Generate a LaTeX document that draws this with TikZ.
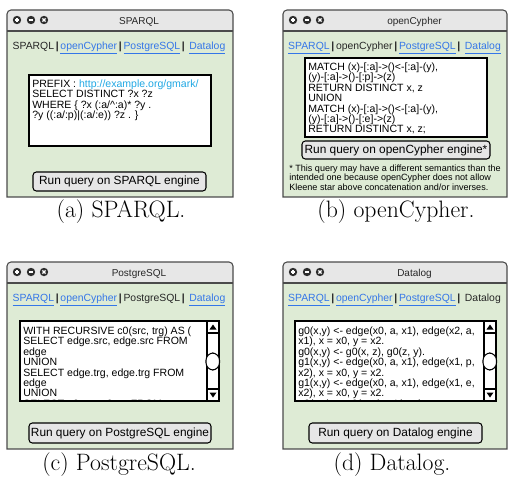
\documentclass[tikz,border=0pt]{standalone}
\usepackage{fontspec}
\newfontfamily\uifont{Liberation Sans}
\definecolor{wbg}{RGB}{222,235,213}
\definecolor{tbar}{RGB}{231,231,231}
\definecolor{wline}{RGB}{75,75,75}
\definecolor{linkc}{RGB}{52,118,232}
\definecolor{urlc}{RGB}{32,168,228}
\definecolor{btnbg}{RGB}{230,230,230}
\definecolor{iconc}{RGB}{45,45,45}
\newcommand\lnk[1]{\textcolor{linkc}{\underline{#1\vphantom{gp}}}}
\newcommand\sepbar{\hspace{1.3pt}\textbf{|}\hspace{1.3pt}}
\newcommand\uiwindow[2]{%
  \fill[wbg] (0,21) rectangle (#1,#2);
  \fill[tbar] (0,21) [rounded corners=3]-- (0,0) -- (#1,0) [sharp corners]-- (#1,21) -- cycle;
  \draw[wline, line width=0.8pt] (0,21) -- (#1,21);
  \draw[wline, line width=0.8pt] (0,#2) [rounded corners=3]-- (0,0) -- (#1,0) [sharp corners]-- (#1,#2) -- cycle;
  \fill[iconc] (10,10) circle (4.2);
  \draw[white, line width=0.9pt] (7.8,10) -- (12.2,10) (10,7.8) -- (10,12.2);
  \fill[iconc] (24,10) circle (4.2);
  \draw[white, line width=0.9pt] (21.8,10) -- (26.2,10);
  \fill[iconc] (37,10) circle (4.2);
  \draw[white, line width=0.9pt] (35.4,8.4) -- (38.6,11.6) (35.4,11.6) -- (38.6,8.4);
}
\newcommand\scrollbar[3]{%
  \draw[black, line width=0.8pt] (#1,#3) -- (#1,#3+80);
  \draw[black, line width=0.8pt] (#1,#3+12) -- (#2,#3+12) (#1,#3+68) -- (#2,#3+68);
  \fill[black] (#1+2.5,#3+8.5) -- (#2-2.5,#3+8.5) -- ({(#1+#2)/2},#3+3.5) -- cycle;
  \fill[black] (#1+2.5,#3+71.5) -- (#2-2.5,#3+71.5) -- ({(#1+#2)/2},#3+76.5) -- cycle;
  \draw[black, fill=white, line width=0.8pt, rounded corners=5.5] (#1-1,#3+32) rectangle (#2+0.5,#3+49);
}
\begin{document}
\begin{tikzpicture}[x=0.75pt,y=-0.75pt,
  ttl/.style={font=\uifont\fontsize{7.5}{9}\selectfont, text=black!85, inner sep=0, anchor=base},
  tabs/.style={font=\uifont\fontsize{7.8}{9}\selectfont, text=black!85, inner sep=0, anchor=base},
  code/.style={font=\uifont\fontsize{7.9}{7.8}\selectfont, align=left, inner sep=0, anchor=north west},
  codebox/.style={draw=black, fill=white, line width=1pt},
  btn/.style={draw=black, fill=btnbg, rounded corners=2.5, line width=0.8pt, inner sep=0,
    font=\uifont\fontsize{8.9}{10}\selectfont},
  note/.style={font=\uifont\fontsize{6.8}{7.2}\selectfont, align=left, inner sep=0, anchor=north west},
  capt/.style={font=\fontsize{17.8}{20}\selectfont, inner sep=0, anchor=base}]
\useasboundingbox (0,0) rectangle (509,482);

% (a) SPARQL
\begin{scope}[shift={(7,10)}]
  \uiwindow{226}{187}
  \node[ttl] (ta) at (132,14) {SPARQL};
  \node[tabs] (tba) at (112,39) {SPARQL\sepbar\lnk{openCypher}\sepbar\lnk{PostgreSQL}\sepbar\ \lnk{Datalog}};
  \draw[codebox] (22,65) rectangle (204,136);
  \node[code] (ca) at (25,69.5) {PREFIX : \textcolor{urlc}{http://example.org/gmark/}\\
SELECT DISTINCT ?x ?z\\
WHERE \{ ?x (:a/\textasciicircum:a)* ?y .\\
?y ((:a/:p)|(:a/:e)) ?z . \}};
  \node[btn, minimum width=173*0.75pt, minimum height=19*0.75pt] (ba) at (112.5,171.5) {Run query on SPARQL engine};
\end{scope}
\node[capt] (capa) at (121,217) {(a) SPARQL.};

% (b) openCypher
\begin{scope}[shift={(283,10)}]
  \uiwindow{224}{187}
  \node[ttl] (tb) at (131.5,14) {openCypher};
  \node[tabs] (tbb) at (111.5,39) {\lnk{SPARQL}\sepbar openCypher\sepbar\lnk{PostgreSQL}\sepbar\ \lnk{Datalog}};
  \draw[codebox] (22,48) rectangle (204,127);
  \node[code] (cb) at (25,52.5) {MATCH (x)-[:a]->()<-[:a]-(y),\\
(y)-[:a]->()-[:p]->(z)\\
RETURN DISTINCT x, z\\
UNION\\
MATCH (x)-[:a]->()<-[:a]-(y),\\
(y)-[:a]->()-[:e]->(z)\\
RETURN DISTINCT x, z;};
  \node[btn, minimum width=188*0.75pt, minimum height=18*0.75pt] (bb) at (113,140) {Run query on openCypher engine*};
  \node[note] (nb) at (6,154.5) {* This query may have a different semantics than the\\
intended one because openCypher does not allow\\
Kleene star above concatenation and/or inverses.};
\end{scope}
\node[capt] (capb) at (396,217) {(b) openCypher.};

% (c) PostgreSQL
\begin{scope}[shift={(7,262)}]
  \uiwindow{226}{187}
  \node[ttl] (tc) at (132,14) {PostgreSQL};
  \node[tabs] (tbc) at (112,39) {\lnk{SPARQL}\sepbar\lnk{openCypher}\sepbar PostgreSQL\sepbar\ \lnk{Datalog}};
  \draw[codebox] (13,59) rectangle (212,139);
  \begin{scope}
    \clip (13,59) rectangle (200,139);
    \node[code] (cc) at (16,64.5) {WITH RECURSIVE c0(src, trg) AS (\\
SELECT edge.src, edge.src FROM\\
edge\\
UNION\\
SELECT edge.trg, edge.trg FROM\\
edge\\
UNION\\
SELECT e0.src, c0.trg FROM};
  \end{scope}
  \scrollbar{200}{212}{59}
  \node[btn, minimum width=182*0.75pt, minimum height=20*0.75pt] (bc) at (113,171) {Run query on PostgreSQL engine};
\end{scope}
\node[capt] (capc) at (119,470) {(c) PostgreSQL.};

% (d) Datalog
\begin{scope}[shift={(283,262)}]
  \uiwindow{224}{187}
  \node[ttl] (td) at (131.5,14) {Datalog};
  \node[tabs] (tbd) at (111.5,39) {\lnk{SPARQL}\sepbar\lnk{openCypher}\sepbar\lnk{PostgreSQL}\sepbar\ Datalog};
  \draw[codebox] (12,59) rectangle (213,139);
  \begin{scope}
    \clip (12,59) rectangle (201,139);
    \node[code] (cd) at (15,64.5) {g0(x,y) <- edge(x0, a, x1), edge(x2, a,\\
x1), x = x0, y = x2.\\
g0(x,y) <- g0(x, z), g0(z, y).\\
g1(x,y) <- edge(x0, a, x1), edge(x1, p,\\
x2), x = x0, y = x2.\\
g1(x,y) <- edge(x0, a, x1), edge(x1, e,\\
x2), x = x0, y = x2.\\
g2(x,y) <- g0(x, z), g1(z, y).};
  \end{scope}
  \scrollbar{201}{213}{59}
  \node[btn, minimum width=173*0.75pt, minimum height=20*0.75pt] (bd) at (112.5,171) {Run query on Datalog engine};
\end{scope}
\node[capt] (capd) at (392,470) {(d) Datalog.};
\end{tikzpicture}
\end{document}
